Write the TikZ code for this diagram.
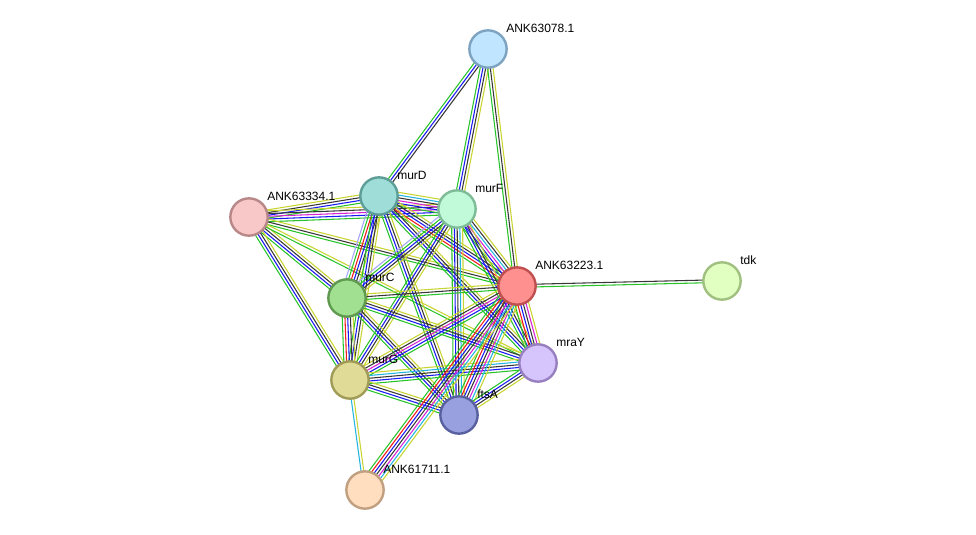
\documentclass[tikz,border=0pt]{standalone}
\usepackage{fontspec}
\setmainfont{Liberation Sans}
\usetikzlibrary{calc,backgrounds}

% evidence channel colours
\definecolor{egreen}{RGB}{40,195,40}
\definecolor{ered}{RGB}{245,25,25}
\definecolor{eblue}{RGB}{25,25,245}
\definecolor{eblack}{RGB}{55,55,55}
\definecolor{emag}{RGB}{215,35,215}
\definecolor{ecyan}{RGB}{35,180,225}
\definecolor{eyel}{RGB}{200,212,50}
\definecolor{ehom}{RGB}{165,165,250}

% protein colours (fill / rim)
\definecolor{f078}{RGB}{192,230,255}\definecolor{r078}{RGB}{126,163,192}
\definecolor{fmurD}{RGB}{159,222,216}\definecolor{rmurD}{RGB}{94,158,152}
\definecolor{fmurF}{RGB}{192,250,216}\definecolor{rmurF}{RGB}{126,188,152}
\definecolor{f334}{RGB}{248,200,200}\definecolor{r334}{RGB}{184,136,136}
\definecolor{f223}{RGB}{255,144,144}\definecolor{r223}{RGB}{192,80,80}
\definecolor{ftdk}{RGB}{224,255,192}\definecolor{rtdk}{RGB}{160,192,128}
\definecolor{fmurC}{RGB}{160,224,144}\definecolor{rmurC}{RGB}{96,154,80}
\definecolor{fmraY}{RGB}{214,196,252}\definecolor{rmraY}{RGB}{152,128,192}
\definecolor{fmurG}{RGB}{224,220,152}\definecolor{rmurG}{RGB}{160,156,88}
\definecolor{fftsA}{RGB}{152,160,224}\definecolor{rftsA}{RGB}{88,96,160}
\definecolor{f711}{RGB}{255,222,192}\definecolor{r711}{RGB}{192,160,128}

% one bundle of parallel evidence lines between two proteins
\newcommand\protlink[3]{%
  \foreach \c [count=\i] in {#3} {\xdef\nlines{\i}}%
  \foreach \c [count=\i] in {#3} {%
    \pgfmathsetmacro\off{(\i-(\nlines+1)/2)*2.05}%
    \draw[edge,draw=\c] ($(#1.center)!\off pt!90:(#2.center)$) -- ($(#2.center)!\off pt!-90:(#1.center)$);
  }}

\begin{document}
\begin{tikzpicture}[x=0.75pt,y=-0.75pt,
  prot/.style={circle,minimum size=28pt,inner sep=0pt,line width=1.8pt},
  lbl/.style={anchor=west,inner sep=0pt,font=\fontsize{9}{10}\selectfont},
  edge/.style={line width=0.8pt}]
\useasboundingbox (0,0) rectangle (976,535);

\node[prot,fill=f078,draw=r078] (ank078) at (488,49) {};
\node[prot,fill=fmurD,draw=rmurD] (murD) at (379,196) {};
\node[prot,fill=fmurF,draw=rmurF] (murF) at (457,209) {};
\node[prot,fill=f334,draw=r334] (ank334) at (249,217) {};
\node[prot,fill=f223,draw=r223] (ank223) at (517,286) {};
\node[prot,fill=ftdk,draw=rtdk] (tdk) at (722,281) {};
\node[prot,fill=fmurC,draw=rmurC] (murC) at (347,298) {};
\node[prot,fill=fmraY,draw=rmraY] (mraY) at (538,363) {};
\node[prot,fill=fmurG,draw=rmurG] (murG) at (350,380) {};
\node[prot,fill=fftsA,draw=rftsA] (ftsA) at (459,415) {};
\node[prot,fill=f711,draw=r711] (ank711) at (365,490) {};

\node[lbl] (ank078-l) at ([shift={(18,-21)}]ank078.center) {ANK63078.1};
\node[lbl] (murD-l) at ([shift={(18,-21)}]murD.center) {murD};
\node[lbl] (murF-l) at ([shift={(18,-21)}]murF.center) {murF};
\node[lbl] (ank334-l) at ([shift={(18,-21)}]ank334.center) {ANK63334.1};
\node[lbl] (ank223-l) at ([shift={(18,-21)}]ank223.center) {ANK63223.1};
\node[lbl] (tdk-l) at ([shift={(18,-21)}]tdk.center) {tdk};
\node[lbl] (murC-l) at ([shift={(18,-21)}]murC.center) {murC};
\node[lbl] (mraY-l) at ([shift={(18,-21)}]mraY.center) {mraY};
\node[lbl] (murG-l) at ([shift={(18,-21)}]murG.center) {murG};
\node[lbl] (ftsA-l) at ([shift={(18,-21)}]ftsA.center) {ftsA};
\node[lbl] (ank711-l) at ([shift={(18,-21)}]ank711.center) {ANK61711.1};

\begin{scope}[on background layer]
\protlink{ank078}{murD}{egreen,eblue,eblack}
\protlink{ank078}{murF}{egreen,eblue,eblack,eyel}
\protlink{ank078}{ank223}{egreen,eblack,eyel}
\protlink{ank334}{murD}{egreen,eblue,eblack,eyel}
\protlink{ank334}{murF}{egreen,eblue,emag,eblack,eyel}
\protlink{ank334}{murC}{egreen,eblue,eblack,eyel}
\protlink{ank334}{murG}{egreen,eblue,eblack,eyel}
\protlink{ank334}{ank223}{egreen,eblack,eyel}
\protlink{ank334}{mraY}{egreen,eyel}
\protlink{murD}{murF}{egreen,eblue,emag,eblack,ecyan,eyel}
\protlink{murD}{murC}{ehom,egreen,ered,eblue,eblack,eyel}
\protlink{murD}{murG}{egreen,eblue,eblack,eyel}
\protlink{murD}{ank223}{egreen,ered,eblue,eblack,eyel}
\protlink{murD}{mraY}{egreen,eblue,eblack,eyel}
\protlink{murD}{ftsA}{egreen,eblue,eblack,eyel}
\protlink{murF}{murC}{ehom,egreen,eblue,eblack,eyel}
\protlink{murF}{murG}{egreen,eblue,eblack,eyel}
\protlink{murF}{ank223}{egreen,eblue,emag,ecyan,eblack,eyel}
\protlink{murF}{mraY}{egreen,eblue,eblack,eyel}
\protlink{murF}{ftsA}{egreen,eblue,eblack,ecyan,eyel}
\protlink{murC}{murG}{egreen,ered,eblue,eblack,eyel}
\protlink{murC}{ank223}{egreen,eblack,eyel}
\protlink{murC}{mraY}{egreen,eblue,eblack,eyel}
\protlink{murC}{ftsA}{egreen,eblue,eblack,eyel}
\protlink{murG}{ank223}{egreen,eblue,emag,eblack,eyel}
\protlink{murG}{mraY}{egreen,eblue,eblack,ecyan,eyel}
\protlink{murG}{ftsA}{egreen,eblue,eblack,eyel}
\protlink{murG}{ank711}{ecyan,eyel}
\protlink{ank223}{mraY}{egreen,ered,eblue,eblack,emag,eyel}
\protlink{ank223}{ftsA}{egreen,ered,eblue,eblack,emag,ecyan,eyel}
\protlink{ank223}{ank711}{egreen,ered,eblue,eblack,emag,ecyan,eyel}
\protlink{ank223}{tdk}{egreen,eblack}
\protlink{mraY}{ftsA}{egreen,eblue,eblack,eyel}
\end{scope}
\end{tikzpicture}
\end{document}
